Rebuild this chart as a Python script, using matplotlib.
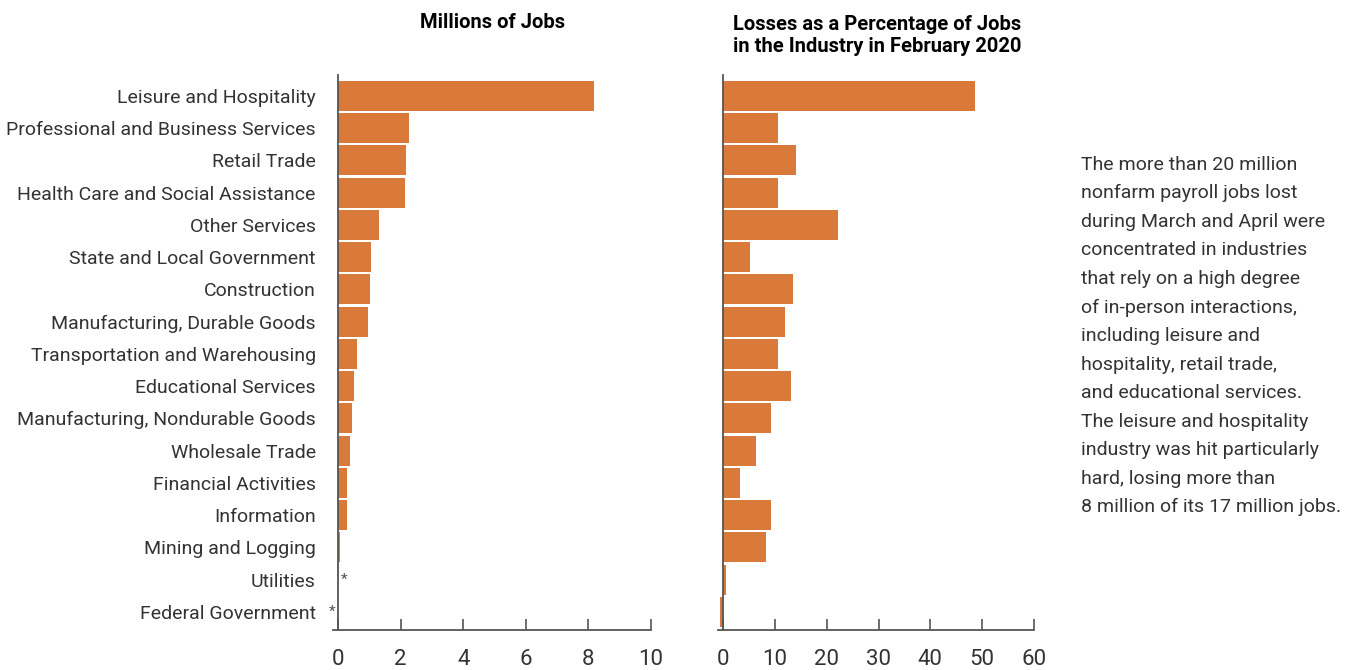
import numpy as np
import matplotlib.pyplot as plt

plt.rcParams['font.family'] = ['Roboto', 'DejaVu Sans']

industries = [
    "Leisure and Hospitality",
    "Professional and Business Services",
    "Retail Trade",
    "Health Care and Social Assistance",
    "Other Services",
    "State and Local Government",
    "Construction",
    "Manufacturing, Durable Goods",
    "Transportation and Warehousing",
    "Educational Services",
    "Manufacturing, Nondurable Goods",
    "Wholesale Trade",
    "Financial Activities",
    "Information",
    "Mining and Logging",
    "Utilities",
    "Federal Government",
]
jobs_millions = [8.18, 2.27, 2.17, 2.15, 1.31, 1.05, 1.02, 0.96, 0.61, 0.51,
                 0.45, 0.38, 0.29, 0.29, 0.06, 0.0, 0.0]
pct_losses = [48.6, 10.6, 14.1, 10.6, 22.2, 5.3, 13.5, 12.0, 10.6, 13.1,
              9.3, 6.3, 3.3, 9.3, 8.3, 0.6, -0.6]
# rows marked with an asterisk (value too small to show) and which side
star_rows = {"Utilities": 1, "Federal Government": -1}

note = ("The more than 20 million\n"
        "nonfarm payroll jobs lost\n"
        "during March and April were\n"
        "concentrated in industries\n"
        "that rely on a high degree\n"
        "of in-person interactions,\n"
        "including leisure and\n"
        "hospitality, retail trade,\n"
        "and educational services.\n"
        "The leisure and hospitality\n"
        "industry was hit particularly\n"
        "hard, losing more than\n"
        "8 million of its 17 million jobs.")

bar_color = '#D97A3A'
spine_color = '#555555'
text_color = '#333333'

fig = plt.figure(figsize=(13.55, 6.7), dpi=100)
ax1 = fig.add_axes([338 / 1355, 1 - 630 / 670, 313 / 1355, 555 / 670])
ax2 = fig.add_axes([723 / 1355, 1 - 630 / 670, 311 / 1355, 555 / 670])

y = np.arange(len(industries))


def style(ax, xmax, step):
    ax.set_ylim(16.56, -0.65)
    ax.set_xlim(0, xmax)
    ax.set_xticks(np.arange(0, xmax + step, step))
    for s in ['top', 'right']:
        ax.spines[s].set_visible(False)
    for s in ['left', 'bottom']:
        ax.spines[s].set_color(spine_color)
        ax.spines[s].set_linewidth(1.3)
        ax.spines[s].set_zorder(3)
    ax.spines['bottom'].set_bounds(-xmax * 0.015, xmax)
    ax.tick_params(axis='x', direction='in', length=8, width=1.2,
                   color=spine_color, labelsize=16, labelcolor=text_color, pad=14)
    ax.tick_params(axis='y', length=0)


ax1.barh(y, jobs_millions, height=0.93, color=bar_color, clip_on=False)
style(ax1, 10, 2)
ax1.set_yticks(y)
ax1.set_yticklabels(industries, fontsize=14, color=text_color)
ax1.tick_params(axis='y', pad=16)
for name, side in star_rows.items():
    i = industries.index(name)
    ax1.text(0.2 * side, i, "*", ha='center', va='center', fontsize=11, color='#555555')

ax2.barh(y, pct_losses, height=0.93, color=bar_color, clip_on=False)
style(ax2, 60, 10)
ax2.set_yticks([])

fig.text(493 / 1355, 1 - 22 / 670, "Millions of Jobs", ha='center', va='center',
         fontsize=14.5, fontweight='bold', color='black')
fig.text(877 / 1355, 1 - 35 / 670, "Losses as a Percentage of Jobs\nin the Industry in February 2020",
         ha='center', va='center', fontsize=14.5, fontweight='bold', color='black',
         linespacing=1.2)

fig.text(1081 / 1355, 1 - 336 / 670, note, ha='left', va='center', fontsize=14,
         color=text_color, linespacing=1.75)

fig.savefig('out.png', dpi=100)
